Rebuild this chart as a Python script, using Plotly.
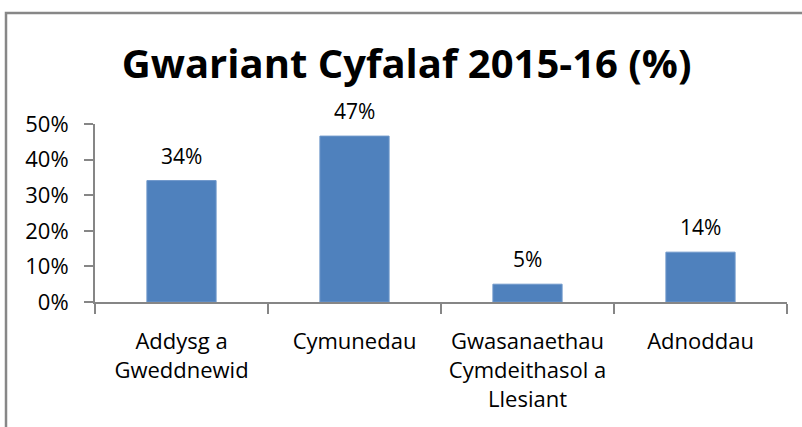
import plotly.graph_objects as go

categories = ["Addysg a<br>Gweddnewid", "Cymunedau", "Gwasanaethau<br>Cymdeithasol a<br>Llesiant", "Adnoddau"]
values = [34.1, 46.6, 5.0, 14.0]
labels = ["34%", "47%", "5%", "14%"]
y_ticks = [0, 10, 20, 30, 40, 50]
y_tick_text = ["0%", "10%", "20%", "30%", "40%", "50%"]

BAR = "#4F81BD"
AX = "#868686"
FONT = "Open Sans, Noto Sans, sans-serif"

fig = go.Figure()
fig.add_trace(go.Bar(
    x=categories, y=values,
    marker=dict(color=BAR, line=dict(color="#6E97CA", width=1)),
    hoverinfo="skip",
))

for c, v, t in zip(categories, values, labels):
    fig.add_annotation(x=c, y=v, text=t, showarrow=False, yanchor="bottom",
                       yshift=9, font=dict(size=21, color="#000000", family=FONT))

fig.update_layout(
    width=802, height=427,
    margin=dict(l=95, r=15, t=124, b=125),
    paper_bgcolor="white", plot_bgcolor="white",
    bargap=0.6,
    showlegend=False,
    title=dict(text="<b>Gwariant Cyfalaf 2015-16 (%)</b>",
               x=0.507, xanchor="center", y=1 - 64 / 427, yanchor="middle", yref="container",
               font=dict(size=40, color="#000000", family="Open Sans, sans-serif")),
    font=dict(family=FONT, color="#000000"),
)

fig.update_xaxes(
    showline=True, linecolor=AX, linewidth=2,
    ticks="outside", ticklen=10, tickcolor=AX, tickwidth=2,
    tickson="boundaries",
    tickfont=dict(size=22, family=FONT, color="#000000"),
    ticklabelstandoff=19,
    showgrid=False, zeroline=False, automargin=False,
)
fig.update_yaxes(
    range=[0, 50],
    tickvals=y_ticks, ticktext=y_tick_text,
    showline=True, linecolor=AX, linewidth=2,
    ticks="outside", ticklen=9, tickcolor=AX, tickwidth=2,
    tickfont=dict(size=22, family=FONT, color="#000000"),
    ticklabelstandoff=11,
    showgrid=False, zeroline=False, automargin=False,
)

fig.add_shape(type="rect", xref="paper", yref="paper",
              x0=(6 - 95) / 692, x1=1.2, y0=-1.0, y1=(302 - 13) / 178,
              line=dict(color="#878787", width=2.5), fillcolor="rgba(0,0,0,0)", layer="below")

fig.write_html("out.html", config={"displayModeBar": False},
               post_script="document.body.style.margin='0';")
